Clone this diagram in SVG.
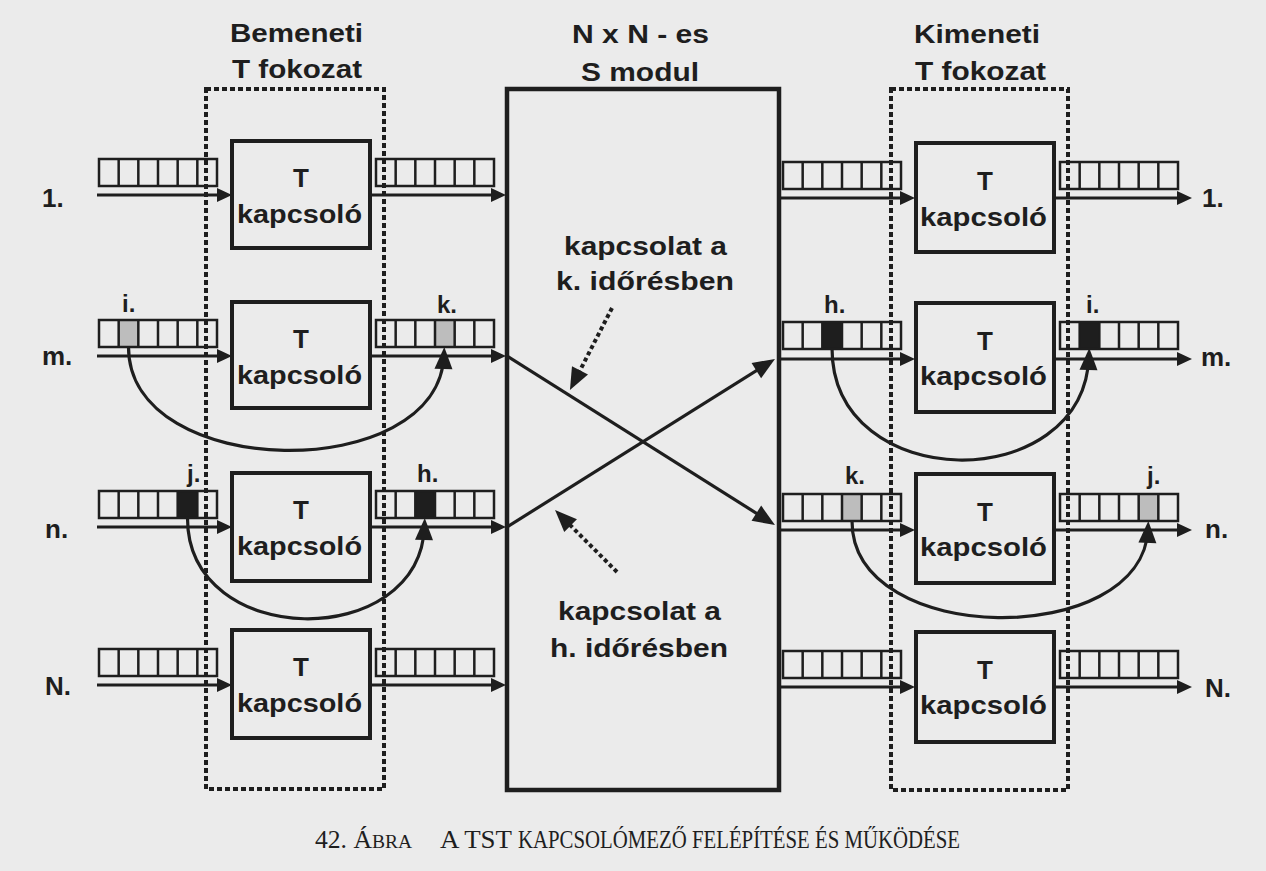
<svg xmlns="http://www.w3.org/2000/svg" xmlns:xlink="http://www.w3.org/1999/xlink" width="1266" height="871" viewBox="0 0 1266 871">
<style>
.bg{fill:#ebebeb}
.lbl{font-family:"Liberation Sans",Arial,sans-serif;font-weight:bold;font-size:26px;fill:#1e1e1e}
.sm{font-size:24px}
.mid{text-anchor:middle}
.box{fill:#ebebeb;stroke:#1e1e1e;stroke-width:4}
.smod{fill:none;stroke:#1e1e1e;stroke-width:4.5}
.dot{fill:none;stroke:#1e1e1e;stroke-width:4;stroke-dasharray:5 3}
.bufr{fill:none;stroke:#1e1e1e;stroke-width:2.5}
.bufl{stroke:#1e1e1e;stroke-width:2.5}
.ln{fill:none;stroke:#1e1e1e;stroke-width:3.2}
.dln{fill:none;stroke:#1e1e1e;stroke-width:4;stroke-dasharray:4 3}
.gray{fill:#bdbdbd}
.blk{fill:#1e1e1e}
.cap{font-family:"Liberation Serif","Times New Roman",serif;font-size:25px;fill:#1e1e1e}
</style>
<defs>
<marker id="ah" markerUnits="userSpaceOnUse" markerWidth="15" markerHeight="14" refX="10" refY="7" orient="auto" overflow="visible"><path d="M0,0 L15,7 L0,14 z" fill="#1e1e1e"/></marker>
<marker id="ahb" markerUnits="userSpaceOnUse" markerWidth="22" markerHeight="18" refX="14" refY="9" orient="auto" overflow="visible"><path d="M0,0 L22,9 L0,18 z" fill="#1e1e1e"/></marker>
<g id="buf"><rect x="0" y="0" width="118" height="27" class="bufr"/><path d="M19.67,0v27M39.33,0v27M59,0v27M78.67,0v27M98.33,0v27" class="bufl"/></g>
</defs>
<rect class="bg" x="0" y="0" width="1266" height="871"/>

<g id="connectors">
<path class="ln" marker-end="url(#ah)" d="M97,195H227"/>
<path class="ln" marker-end="url(#ah)" d="M97,356H227"/>
<path class="ln" marker-end="url(#ah)" d="M97,527H227"/>
<path class="ln" marker-end="url(#ah)" d="M97,685H227"/>
<path class="ln" marker-end="url(#ah)" d="M370,195H501"/>
<path class="ln" marker-end="url(#ah)" d="M370,356H501"/>
<path class="ln" marker-end="url(#ah)" d="M370,527H501"/>
<path class="ln" marker-end="url(#ah)" d="M370,685H501"/>
<path class="ln" marker-end="url(#ah)" d="M780,198H910"/>
<path class="ln" marker-end="url(#ah)" d="M780,359H910"/>
<path class="ln" marker-end="url(#ah)" d="M780,530H910"/>
<path class="ln" marker-end="url(#ah)" d="M780,687H910"/>
<path class="ln" marker-end="url(#ah)" d="M1054,198H1187"/>
<path class="ln" marker-end="url(#ah)" d="M1054,359H1187"/>
<path class="ln" marker-end="url(#ah)" d="M1054,530H1187"/>
<path class="ln" marker-end="url(#ah)" d="M1054,687H1187"/>
<path class="ln" d="M507,356L768.2,520.7" marker-end="url(#ahb)"/>
<path class="ln" d="M507,527L768.2,363.2" marker-end="url(#ahb)"/>
<path class="dln" d="M612,308L573.6,382.9" marker-end="url(#ahb)"/>
<path class="dln" d="M617,572L560.7,515.7" marker-end="url(#ahb)"/>
<path class="ln" d="M128.5,347C128.5,482 439,485 444,355" marker-end="url(#ahb)"/>
<path class="ln" d="M187.5,518C187.5,650 420,652 424.5,526" marker-end="url(#ahb)"/>
<path class="ln" d="M832,348C832,495 1084,497 1089,356" marker-end="url(#ahb)"/>
<path class="ln" d="M852,521C852,648 1143,649 1148,529" marker-end="url(#ahb)"/>
</g>

<g id="s-module">
<rect class="smod" x="507" y="89" width="272" height="701"/>
<text class="lbl" x="572" y="43" textLength="137" lengthAdjust="spacingAndGlyphs">N x N - es</text>
<text class="lbl" x="581" y="81" textLength="118" lengthAdjust="spacingAndGlyphs">S modul</text>
<text class="lbl" x="564" y="255" textLength="163" lengthAdjust="spacingAndGlyphs">kapcsolat a</text>
<text class="lbl" x="556" y="290" textLength="178" lengthAdjust="spacingAndGlyphs">k. időrésben</text>
<text class="lbl" x="558" y="620" textLength="163" lengthAdjust="spacingAndGlyphs">kapcsolat a</text>
<text class="lbl" x="550" y="657" textLength="178" lengthAdjust="spacingAndGlyphs">h. időrésben</text>
</g>

<g id="t-in-1"><rect class="box" x="232" y="141" width="138" height="107"/><text class="lbl mid" x="301" y="187">T</text><text class="lbl" x="237" y="223" textLength="125" lengthAdjust="spacingAndGlyphs">kapcsoló</text></g>
<g id="t-in-m"><rect class="box" x="232" y="302" width="138" height="106"/><text class="lbl mid" x="301" y="348">T</text><text class="lbl" x="237" y="384" textLength="125" lengthAdjust="spacingAndGlyphs">kapcsoló</text></g>
<g id="t-in-n"><rect class="box" x="232" y="473" width="138" height="108"/><text class="lbl mid" x="301" y="519">T</text><text class="lbl" x="237" y="555" textLength="125" lengthAdjust="spacingAndGlyphs">kapcsoló</text></g>
<g id="t-in-N"><rect class="box" x="232" y="630" width="138" height="108"/><text class="lbl mid" x="301" y="676">T</text><text class="lbl" x="237" y="712" textLength="125" lengthAdjust="spacingAndGlyphs">kapcsoló</text></g>

<g id="t-out-1"><rect class="box" x="916" y="143" width="138" height="109"/><text class="lbl mid" x="985" y="190">T</text><text class="lbl" x="920" y="226" textLength="127" lengthAdjust="spacingAndGlyphs">kapcsoló</text></g>
<g id="t-out-m"><rect class="box" x="916" y="303" width="138" height="109"/><text class="lbl mid" x="985" y="350">T</text><text class="lbl" x="920" y="385" textLength="127" lengthAdjust="spacingAndGlyphs">kapcsoló</text></g>
<g id="t-out-n"><rect class="box" x="916" y="474" width="138" height="109"/><text class="lbl mid" x="985" y="521">T</text><text class="lbl" x="920" y="556" textLength="127" lengthAdjust="spacingAndGlyphs">kapcsoló</text></g>
<g id="t-out-N"><rect class="box" x="916" y="632" width="138" height="110"/><text class="lbl mid" x="985" y="679">T</text><text class="lbl" x="920" y="714" textLength="127" lengthAdjust="spacingAndGlyphs">kapcsoló</text></g>

<g id="buffers">
<rect class="gray" x="118.67" y="320" width="19.67" height="27"/>
<rect class="gray" x="435" y="320" width="19.67" height="27"/>
<rect class="blk" x="177.67" y="491" width="19.67" height="27"/>
<rect class="blk" x="415.33" y="491" width="19.67" height="27"/>
<rect class="blk" x="822.33" y="322" width="19.67" height="26"/>
<rect class="blk" x="1079.67" y="322" width="19.67" height="26"/>
<rect class="gray" x="842" y="494" width="19.67" height="27"/>
<rect class="gray" x="1138.67" y="494" width="19.67" height="27"/>
<use xlink:href="#buf" x="99" y="159"/>
<use xlink:href="#buf" x="99" y="320"/>
<use xlink:href="#buf" x="99" y="491"/>
<use xlink:href="#buf" x="99" y="649"/>
<use xlink:href="#buf" x="376" y="159"/>
<use xlink:href="#buf" x="376" y="320"/>
<use xlink:href="#buf" x="376" y="491"/>
<use xlink:href="#buf" x="376" y="649"/>
<use xlink:href="#buf" x="783" y="162"/>
<use xlink:href="#buf" x="783" y="322"/>
<use xlink:href="#buf" x="783" y="494"/>
<use xlink:href="#buf" x="783" y="651"/>
<use xlink:href="#buf" x="1060" y="162"/>
<use xlink:href="#buf" x="1060" y="322"/>
<use xlink:href="#buf" x="1060" y="494"/>
<use xlink:href="#buf" x="1060" y="651"/>
</g>

<g id="input-stage">
<rect class="dot" x="206" y="89" width="178" height="700"/>
<text class="lbl" x="230" y="42" textLength="133" lengthAdjust="spacingAndGlyphs">Bemeneti</text>
<text class="lbl" x="232" y="78" textLength="130" lengthAdjust="spacingAndGlyphs">T fokozat</text>
</g>
<g id="output-stage">
<rect class="dot" x="891" y="89" width="177" height="701"/>
<text class="lbl" x="914" y="43" textLength="126" lengthAdjust="spacingAndGlyphs">Kimeneti</text>
<text class="lbl" x="915" y="80" textLength="131" lengthAdjust="spacingAndGlyphs">T fokozat</text>
</g>

<g id="labels">
<text class="lbl" x="42" y="207">1.</text>
<text class="lbl" x="42" y="365">m.</text>
<text class="lbl" x="45" y="538">n.</text>
<text class="lbl" x="45" y="695">N.</text>
<text class="lbl" x="1202" y="207">1.</text>
<text class="lbl" x="1201" y="366">m.</text>
<text class="lbl" x="1205" y="538">n.</text>
<text class="lbl" x="1205" y="697">N.</text>
<text class="lbl sm" x="122" y="312">i.</text>
<text class="lbl sm" x="437" y="313">k.</text>
<text class="lbl sm" x="187" y="482">j.</text>
<text class="lbl sm" x="417" y="482">h.</text>
<text class="lbl sm" x="824" y="313">h.</text>
<text class="lbl sm" x="1086" y="313">i.</text>
<text class="lbl sm" x="845" y="484">k.</text>
<text class="lbl sm" x="1147" y="484">j.</text>
</g>

<g id="caption">
<text class="cap" x="315" y="848" textLength="97" lengthAdjust="spacingAndGlyphs">42. Á<tspan font-size="19">BRA</tspan></text>
<text class="cap" x="440" y="848" textLength="72" lengthAdjust="spacingAndGlyphs">A TST</text>
<text class="cap" x="518" y="848" font-size="19" textLength="442" lengthAdjust="spacingAndGlyphs">KAPCSOLÓMEZŐ FELÉPÍTÉSE ÉS MŰKÖDÉSE</text>
</g>
</svg>
